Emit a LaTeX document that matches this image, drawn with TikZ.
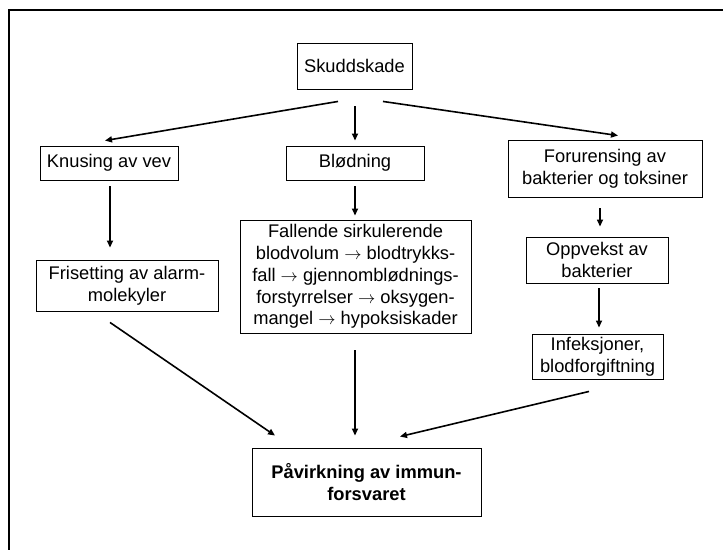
\documentclass[tikz,border=0pt]{standalone}
\usepackage{fontspec}
\setmainfont{Liberation Sans}
\usetikzlibrary{arrows.meta,calc}
\tikzset{
  box/.style={draw, line width=0.9pt, inner sep=0pt, align=center,
    font=\fontsize{18.3}{21.8}\selectfont},
  arr/.style={line width=1.6pt, -{Triangle[length=7pt,width=6pt]}}
}
\begin{document}
\begin{tikzpicture}[x=1pt,y=1pt]
\useasboundingbox (0,0) rectangle (723,550);
\draw[line width=2pt] (723,540) -- (9,540) -- (9,0);
\node[box, minimum width=115, minimum height=46] (skudd) at (354.5,484) {Skuddskade};
\node[box, minimum width=138, minimum height=34] (knus) at (109,387) {Knusing av vev};
\node[box, minimum width=138, minimum height=34] (blod) at (355,387) {Blødning};
\node[box, minimum width=194, minimum height=57] (foru) at (605,381.5) {Forurensing av\\bakterier og toksiner};
\node[box, minimum width=182, minimum height=51] (fris) at (127,264.5) {Frisetting av alarm-\\molekyler};
\node[box, minimum width=231, minimum height=113] (fall) at (355.5,273.5) {Fallende sirkulerende\\blodvolum $\rightarrow$ blodtrykks-\\fall $\rightarrow$ gjennomblødnings-\\forstyrrelser $\rightarrow$ oksygen-\\mangel $\rightarrow$ hypoksiskader};
\node[box, minimum width=142, minimum height=46] (opp) at (597,290) {Oppvekst av\\bakterier};
\node[box, minimum width=131, minimum height=45] (inf) at (597.5,193.5) {Infeksjoner,\\blodforgiftning};
\node[box, minimum width=229, minimum height=68, font=\fontsize{18.3}{22}\selectfont\bfseries] (pav) at (366.5,68) {Påvirkning av immun-\\forsvaret};
\draw[arr] ($(skudd.south)+(-16.5,-12)$) -- ($(knus.north)+(-4,5)$);
\draw[arr] ($(skudd.south)+(0.5,-17)$) -- ($(blod.north)+(0,5)$);
\draw[arr] ($(skudd.south)+(28.5,-12)$) -- ($(foru.north)+(13,4)$);
\draw[arr] ($(knus.south)+(1,-6)$) -- ($(knus.south|-fris.north)+(1,12)$);
\draw[arr] ($(blod.south)+(0,-6)$) -- ($(blod.south|-fall.north)+(0,4)$);
\draw[arr] ($(foru.south)+(-5,-11)$) -- ($(foru.south|-opp.north)+(-5,10)$);
\draw[arr] ($(opp.south)+(2,-5)$) -- ($(opp.south|-inf.north)+(2,6)$);
\draw[arr] ($(fris.south)+(-17,-11)$) -- ($(pav.north)+(-91.5,12)$);
\draw[arr] ($(fall.south)+(-0.5,-17)$) -- ($(fall.south|-pav.north)+(-0.5,12)$);
\draw[arr] ($(inf.south)+(-8.5,-12)$) -- ($(pav.north)+(33.5,11)$);
\end{tikzpicture}
\end{document}
